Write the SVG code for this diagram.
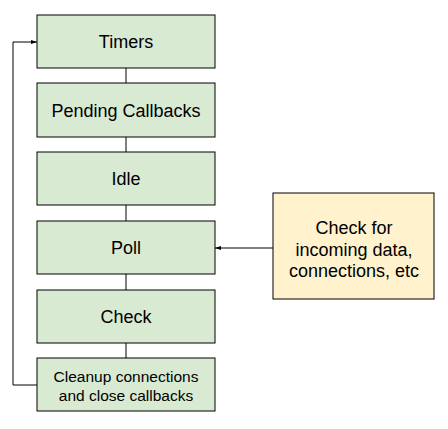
<svg xmlns="http://www.w3.org/2000/svg" width="448" height="429" viewBox="0 0 448 429">
<style>
.g{fill:#d9ead3;stroke:#000;stroke-width:1}
.y{fill:#fff2cc;stroke:#000;stroke-width:1}
text{font-family:"Liberation Sans",Arial,sans-serif;font-size:18px;fill:#000;text-anchor:middle}
.s{font-size:15.5px}
.c{fill:none;stroke:#000;stroke-width:1}
</style>
<defs>
<marker id="a" viewBox="0 0 10 10" refX="10" refY="5" markerWidth="6" markerHeight="6" orient="auto" markerUnits="userSpaceOnUse">
<path d="M0,1.5 L10,5 L0,8.5 z" fill="#000"/>
</marker>
</defs>
<rect width="448" height="429" fill="#fff"/>
<g id="connectors">
<line class="c" x1="126" y1="68" x2="126" y2="83"/>
<line class="c" x1="126" y1="137" x2="126" y2="152"/>
<line class="c" x1="126" y1="205" x2="126" y2="221"/>
<line class="c" x1="126" y1="274" x2="126" y2="290"/>
<line class="c" x1="126" y1="343" x2="126" y2="358"/>
<polyline class="c" points="37,385 13,385 13,42 37,42" marker-end="url(#a)"/>
<line class="c" x1="273" y1="248" x2="215" y2="248" marker-end="url(#a)"/>
</g>
<g id="timers"><rect class="g" x="37" y="15" width="178" height="53"/><text x="126" y="48">Timers</text></g>
<g id="pending"><rect class="g" x="37" y="83" width="178" height="54"/><text x="126" y="117">Pending Callbacks</text></g>
<g id="idle"><rect class="g" x="37" y="152" width="178" height="53"/><text x="126" y="185">Idle</text></g>
<g id="poll"><rect class="g" x="37" y="221" width="178" height="53"/><text x="126" y="254">Poll</text></g>
<g id="check"><rect class="g" x="37" y="290" width="178" height="53"/><text x="126" y="323">Check</text></g>
<g id="cleanup"><rect class="g" x="37" y="358" width="178" height="53"/><text class="s" x="126" y="382">Cleanup connections</text><text class="s" x="126" y="401">and close callbacks</text></g>
<g id="note"><rect class="y" x="273" y="193" width="161" height="106"/><text x="354" y="234">Check for</text><text x="354" y="256">incoming data,</text><text x="354" y="277">connections, etc</text></g>
</svg>
